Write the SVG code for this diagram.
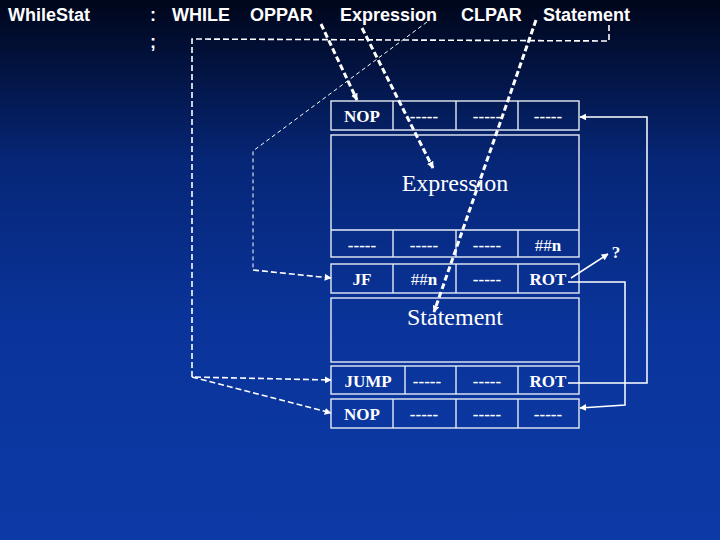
<svg xmlns="http://www.w3.org/2000/svg" width="720" height="540" viewBox="0 0 720 540">
<defs>
<linearGradient id="bg" x1="0" y1="0" x2="0" y2="1">
<stop offset="0" stop-color="#00061a"/>
<stop offset="0.3" stop-color="#062677"/>
<stop offset="0.6" stop-color="#0a349a"/>
<stop offset="1" stop-color="#0b3aa6"/>
</linearGradient>
<marker id="ah" viewBox="0 0 10 10" refX="9" refY="5" markerWidth="7" markerHeight="7" markerUnits="userSpaceOnUse" orient="auto">
<path d="M0,0 L10,5 L0,10 z" fill="#ffffff"/>
</marker>
<style>
.hd{font-family:"Liberation Sans",Arial,sans-serif;font-weight:bold;font-size:18px;fill:#ffffff}
.cell{fill:none;stroke:#e6ecf5;stroke-width:1.4}
.t{font-family:"Liberation Serif","Times New Roman",serif;font-weight:bold;font-size:17px;fill:#ffffff;text-anchor:middle}
.n{font-weight:normal}
.big{font-family:"Liberation Serif","Times New Roman",serif;font-size:24px;fill:#ffffff;text-anchor:middle}
.heavy{fill:none;stroke:#ffffff;stroke-width:3;stroke-dasharray:6 3}
.med{fill:none;stroke:#ffffff;stroke-width:1.6;stroke-dasharray:6 3}
.thin{fill:none;stroke:#ffffff;stroke-width:1;stroke-dasharray:4 3}
.solid{fill:none;stroke:#ffffff;stroke-width:1.5}
</style>
</defs>
<rect x="0" y="0" width="720" height="540" fill="url(#bg)"/>

<g id="header">
<text class="hd" x="8" y="21">WhileStat</text>
<text class="hd" x="150" y="21">:</text>
<text class="hd" x="172" y="21">WHILE</text>
<text class="hd" x="250" y="21">OPPAR</text>
<text class="hd" x="340" y="21">Expression</text>
<text class="hd" x="461" y="21">CLPAR</text>
<text class="hd" x="543" y="21">Statement</text>
<text class="hd" x="150" y="48">;</text>
</g>

<g id="row-nop1">
<rect class="cell" x="331" y="101" width="248" height="29"/>
<line class="cell" x1="393" y1="101" x2="393" y2="130"/>
<line class="cell" x1="456" y1="101" x2="456" y2="130"/>
<line class="cell" x1="518" y1="101" x2="518" y2="130"/>
<text class="t" x="362" y="122">NOP</text>
<text class="t" x="424" y="122">-----</text>
<text class="t" x="487" y="122">-----</text>
<text class="t" x="548" y="122">-----</text>
</g>

<g id="expression">
<rect class="cell" x="331" y="135" width="248" height="122"/>
<line class="cell" x1="331" y1="230" x2="579" y2="230"/>
<line class="cell" x1="393" y1="230" x2="393" y2="257"/>
<line class="cell" x1="456" y1="230" x2="456" y2="257"/>
<line class="cell" x1="518" y1="230" x2="518" y2="257"/>
<text class="big" x="455" y="191">Expression</text>
<text class="t" x="362" y="251">-----</text>
<text class="t" x="424" y="251">-----</text>
<text class="t" x="487" y="251">-----</text>
<text class="t" x="548" y="251"><tspan class="n">##</tspan>n</text>
</g>

<g id="row-jf">
<rect class="cell" x="331" y="264" width="248" height="29"/>
<line class="cell" x1="393" y1="264" x2="393" y2="293"/>
<line class="cell" x1="456" y1="264" x2="456" y2="293"/>
<line class="cell" x1="518" y1="264" x2="518" y2="293"/>
<text class="t" x="362" y="285">JF</text>
<text class="t" x="424" y="285"><tspan class="n">##</tspan>n</text>
<text class="t" x="487" y="285">-----</text>
<text class="t" x="548" y="285">ROT</text>
</g>

<g id="statement">
<rect class="cell" x="331" y="298" width="248" height="64"/>
<text class="big" x="455" y="325">Statement</text>
</g>

<g id="row-jump">
<rect class="cell" x="331" y="366" width="248" height="28"/>
<line class="cell" x1="405" y1="366" x2="405" y2="394"/>
<line class="cell" x1="456" y1="366" x2="456" y2="394"/>
<line class="cell" x1="518" y1="366" x2="518" y2="394"/>
<text class="t" x="368" y="387">JUMP</text>
<text class="t" x="427" y="387">-----</text>
<text class="t" x="487" y="387">-----</text>
<text class="t" x="548" y="387">ROT</text>
</g>

<g id="row-nop2">
<rect class="cell" x="331" y="399" width="248" height="29"/>
<line class="cell" x1="393" y1="399" x2="393" y2="428"/>
<line class="cell" x1="456" y1="399" x2="456" y2="428"/>
<line class="cell" x1="518" y1="399" x2="518" y2="428"/>
<text class="t" x="362" y="420">NOP</text>
<text class="t" x="424" y="420">-----</text>
<text class="t" x="487" y="420">-----</text>
<text class="t" x="548" y="420">-----</text>
</g>

<g id="qmark">
<text class="t" x="616" y="258">?</text>
</g>

<g id="connectors">
<path class="heavy" d="M321,24 L357,100" marker-end="url(#ah)"/>
<path class="heavy" d="M362,28 L433,168" marker-end="url(#ah)"/>
<path class="heavy" d="M536,20 L434,312" marker-end="url(#ah)"/>
<path class="thin" d="M427,22 L253,151 L253,270"/>
<path class="med" d="M253,270 L331,278" marker-end="url(#ah)"/>
<path class="med" d="M609,25 L609,41 L192,39 L192,377 L331,380" marker-end="url(#ah)"/>
<path class="med" d="M192,377 L331,413" marker-end="url(#ah)"/>
<path class="solid" d="M568,383 L647,383 L647,117 L580,117" marker-end="url(#ah)"/>
<path class="solid" d="M568,282 L625,282 L625,405 L580,408" marker-end="url(#ah)"/>
<path class="solid" d="M571,278 L608,254" marker-end="url(#ah)"/>
</g>
</svg>
